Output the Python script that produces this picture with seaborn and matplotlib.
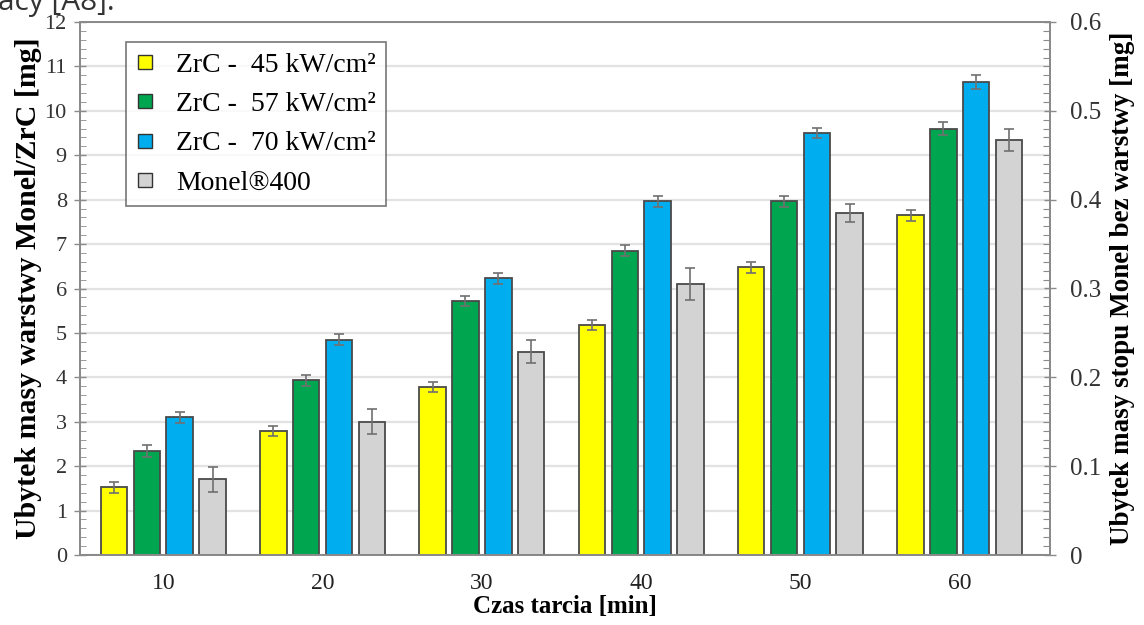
import numpy as np
import pandas as pd
import seaborn as sns
import matplotlib.pyplot as plt
from matplotlib.lines import Line2D
from matplotlib.ticker import MultipleLocator

# czas tarcia [min]
czas = [10, 20, 30, 40, 50, 60]

# ubytek masy warstwy Monel/ZrC [mg] (lewa os)
zrc_45 = [1.52, 2.79, 3.78, 5.18, 6.48, 7.65]
zrc_57 = [2.34, 3.93, 5.72, 6.85, 7.96, 9.60]
zrc_70 = [3.10, 4.85, 6.23, 7.96, 9.50, 10.65]
err_45 = [0.13, 0.12, 0.12, 0.12, 0.12, 0.12]
err_57 = [0.13, 0.12, 0.12, 0.12, 0.13, 0.14]
err_70 = [0.13, 0.12, 0.13, 0.13, 0.12, 0.15]

# ubytek masy stopu Monel bez warstwy [mg] (prawa os)
monel = [0.085, 0.150, 0.229, 0.305, 0.385, 0.467]
err_monel = [0.014, 0.014, 0.0125, 0.018, 0.010, 0.0125]

serie = ['ZrC -  45 kW/cm²', 'ZrC -  57 kW/cm²', 'ZrC -  70 kW/cm²', 'Monel®400']
kolory = ['#FFFF00', '#00A64F', '#00AEEF', '#D3D3D3']

paleta = dict(zip(serie, kolory))

# long tables for seaborn
zrc = pd.DataFrame({
    'czas': czas * 3,
    'seria': [serie[0]] * 6 + [serie[1]] * 6 + [serie[2]] * 6,
    'ubytek': zrc_45 + zrc_57 + zrc_70,
})
mon = pd.DataFrame({'czas': czas, 'seria': [serie[3]] * 6, 'ubytek': monel})

plt.rcParams['font.family'] = 'Liberation Serif'

fig, ax = plt.subplots(figsize=(11.44, 6.25), dpi=100)
fig.subplots_adjust(left=0.0699, right=0.9178, bottom=0.112, top=0.9648)
ax2 = ax.twinx()

opts = dict(x='czas', y='ubytek', hue='seria', hue_order=serie, palette=paleta,
            width=0.824, gap=0.194, dodge=True, edgecolor='#4a4a4a', linewidth=1.3,
            errorbar=None, legend=False, saturation=1)
sns.barplot(data=zrc, ax=ax, **opts)
sns.barplot(data=mon, ax=ax2, **opts)

# error bars at bar centres (sorted left to right)
def slupki(a, errs):
    ps = sorted(a.patches, key=lambda p: p.get_x())
    xs = [p.get_x() + p.get_width() / 2 for p in ps]
    hs = [p.get_height() for p in ps]
    a.errorbar(xs, hs, yerr=errs, fmt='none', ecolor='#707070', elinewidth=1.2,
               capsize=3.5, capthick=1.2, zorder=5)

slupki(ax, np.array([err_45, err_57, err_70]).T.ravel())
slupki(ax2, err_monel)

ax.set_ylim(0, 12)
ax.set_xlim(-0.523, 5.566)

ax.yaxis.set_major_locator(MultipleLocator(1))
ax.yaxis.set_minor_locator(MultipleLocator(0.2))
ax2.yaxis.set_major_locator(MultipleLocator(0.1))
ax2.yaxis.set_minor_locator(MultipleLocator(0.01))
ax2.set_yticks(ax2.get_yticks())
ax2.set_yticklabels(['0' if v == 0 else f'{v:.1f}' for v in ax2.get_yticks()])
ax2.set_ylim(0, 0.6)

ax.grid(axis='y', color='#e2e2e2', lw=1.6)
ax.set_axisbelow(True)

for a in (ax, ax2):
    for s in a.spines.values():
        s.set_color('#8a8a8a')
        s.set_linewidth(1.3)

ax.tick_params(axis='y', which='major', direction='inout', length=9, width=1,
               color='#8a8a8a', labelsize=16, labelcolor='#333333', pad=5)
ax.tick_params(axis='y', which='minor', direction='in', length=4, color='#8a8a8a')
ax2.tick_params(axis='y', which='major', direction='inout', length=9, width=1,
                color='#8a8a8a', labelsize=18, labelcolor='#333333', pad=10)
ax2.tick_params(axis='y', which='minor', direction='in', length=5, width=0.8, color='#8a8a8a')
ax.tick_params(axis='x', length=0, labelsize=17, labelcolor='#222222', pad=13)

ax.set_xlabel('Czas tarcia [min]', fontsize=18, fontweight='bold', labelpad=1)
ax.set_ylabel('Ubytek masy warstwy Monel/ZrC [mg]', fontsize=21.5, fontweight='bold', labelpad=2)
ax2.set_ylabel('Ubytek masy stopu Monel bez warstwy [mg]', fontsize=19.5, fontweight='bold', labelpad=6)

uchwyty = [Line2D([], [], ls='none', marker='s', markersize=10, markerfacecolor=c,
                  markeredgecolor='#333333', markeredgewidth=1) for c in kolory]
leg = ax2.legend(uchwyty, serie, loc='upper left', bbox_to_anchor=(0.047, 0.962),
                 borderaxespad=0, fontsize=20, frameon=True, fancybox=False,
                 labelspacing=0.5, handletextpad=0.75, borderpad=0.36, handlelength=0.7)
leg.get_frame().set_edgecolor('#555555')
leg.get_frame().set_linewidth(1.2)

# kawalek tekstu z dokumentu nad wykresem
fig.text(-0.002, 1 - 10 / 625, 'acy [A8].', fontsize=21.5, family='Open Sans',
         color='#333333', va='baseline', ha='left')

plt.savefig('out.png', dpi=100)
